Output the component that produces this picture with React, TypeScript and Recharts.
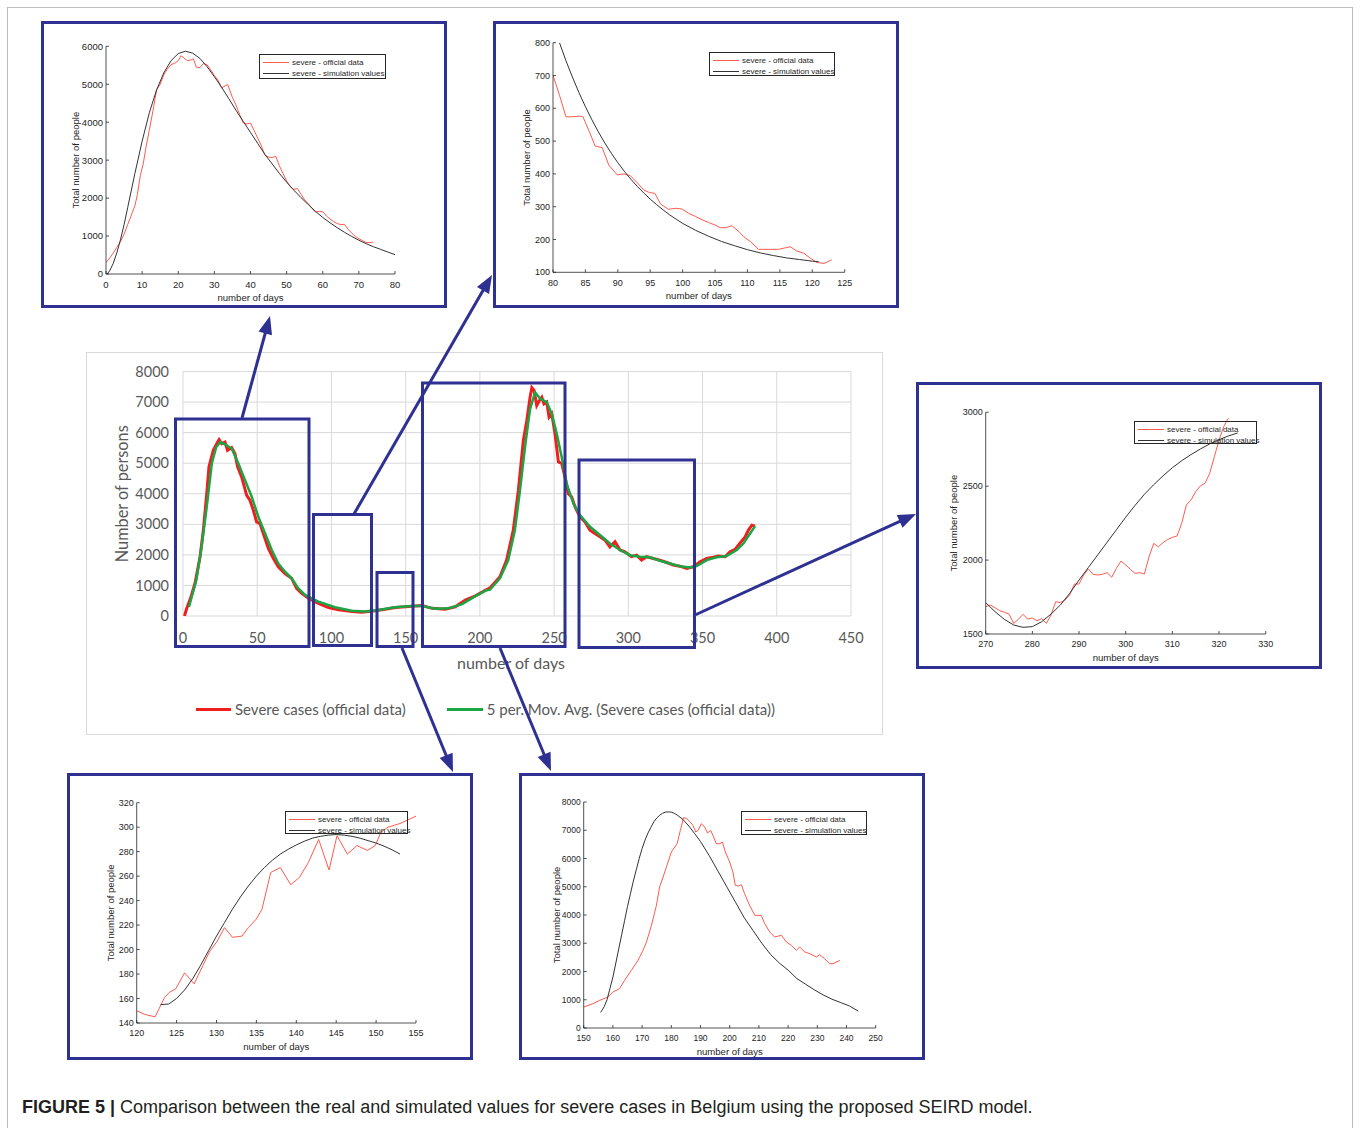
import React from "react";
import { LineChart, Line, XAxis, YAxis, CartesianGrid } from "recharts";

// ===== colours & fonts =====
const NAVY = "#2e3192";
const MAIN_FONT = "Lato, 'Open Sans', sans-serif";
const INSET_FONT = "'Liberation Sans', Arial, sans-serif";
const MAIN_TEXT = "#595959";
const INSET_TEXT = "#262626";
const RED = "#f01e1e";
const GREEN = "#1aa645";
const INSET_RED = "#ff5a4f";
const INSET_BLACK = "#333333";

// ===== main chart data: [day, severe cases] =====
const mainSevere: [number, number][] = [
  [1, 0], [2.5, 250], [5.4, 630], [8.1, 1070], [11.5, 1940], [13.7, 2810], [16, 4000], [17.5, 4880],
  [20.4, 5420], [22.7, 5640], [24.3, 5770], [26, 5640], [28.3, 5690], [30, 5420], [32.8, 5510], [35, 5310],
  [36.8, 4880], [39.5, 4550], [42.9, 3950], [45.1, 3790], [47.4, 3460], [49.6, 3080], [51.9, 3020],
  [54.1, 2700], [57.5, 2210], [60.9, 1880], [64.2, 1610], [68.7, 1390], [73.2, 1230], [76.6, 900],
  [80, 740], [84.5, 580], [91.2, 410], [98, 280], [104.8, 200], [113.8, 150], [120.5, 125], [129.5, 175],
  [136.2, 220], [143, 280], [149.7, 300], [156.5, 325], [161, 340], [167.7, 250], [176.6, 220],
  [183.4, 300], [190.2, 520], [197, 660], [203, 820], [206.8, 920], [213.5, 1280], [218, 1830],
  [222.5, 2810], [225.9, 4110], [229.3, 5750], [231.6, 6400], [233.8, 7160], [235, 7470], [236.5, 7380],
  [238.3, 6890], [240.1, 7050], [241.7, 7160], [243.2, 6940], [245, 7000], [246.6, 6510], [248.4, 6620],
  [250.6, 5960], [252.9, 5040], [255.1, 4990], [257.3, 4550], [259.6, 4000], [261.8, 3900], [264.1, 3570],
  [267.4, 3240], [270.8, 3080], [274.2, 2810], [277.5, 2700], [280.9, 2590], [284.3, 2480], [287.6, 2260],
  [291, 2430], [294.4, 2160], [297.7, 2100], [302.2, 1940], [305.6, 1990], [308.9, 1830], [312.3, 1940],
  [316.8, 1880], [321.3, 1830], [325.8, 1750], [330.3, 1670], [334.8, 1630], [339.3, 1560], [343.8, 1610],
  [348.3, 1770], [352.8, 1880], [357.3, 1920], [360.7, 1960], [365.2, 1940], [368.5, 2100], [371.9, 2180],
  [375.3, 2390], [378.7, 2590], [380.9, 2810], [383.2, 2970], [385.4, 2940],
];

// 5 per. moving average as drawn in the figure
const mainMovAvg: [number, number][] = [
  [4, 300], [9, 1175], [12.5, 2260], [16, 3570], [19.4, 4990], [22.4, 5530], [25.1, 5690], [28.3, 5620],
  [32.8, 5480], [37.3, 4990], [41.8, 4440], [46.3, 3900], [50.8, 3240], [55.3, 2700], [59.8, 2160],
  [64.2, 1720], [68.7, 1450], [73.2, 1230], [77.7, 900], [82.2, 690], [91.2, 470], [102.4, 285],
  [113.6, 175], [122.6, 145], [131.6, 195], [142.8, 285], [154, 325], [161, 327], [170, 240], [179, 250],
  [188, 390], [197, 650], [203.7, 830], [206.8, 860], [213.5, 1230], [219.1, 1830], [223.6, 2810],
  [227, 4110], [230.4, 5530], [233.8, 6780], [237.2, 7320], [240.6, 7110], [245, 7000], [248.4, 6620],
  [251.8, 5960], [255.1, 5200], [258.5, 4330], [263, 3680], [267.4, 3300], [274.2, 2920], [280.9, 2650],
  [287.6, 2370], [294.4, 2160], [301.1, 1990], [307.8, 1940], [314.6, 1920], [321.3, 1810], [328, 1720],
  [334.8, 1630], [341.5, 1590], [346, 1630], [352.8, 1830], [359.5, 1920], [366.2, 1960], [373, 2160],
  [377.5, 2370], [382, 2700], [385.4, 2940],
];

const mainXTicks = [0, 50, 100, 150, 200, 250, 300, 350, 400, 450];
const mainYTicks = [0, 1000, 2000, 3000, 4000, 5000, 6000, 7000, 8000];

// ===== inset data: [day, total number of people] =====
const wave1Official: [number, number][] = [
  [0, 300], [1, 420], [2, 550], [3, 700], [4, 850], [5, 1050], [6, 1300], [7, 1550], [8, 1800], [8.7, 2100],
  [9.5, 2600], [10.3, 2900], [11, 3300], [12, 3800], [13, 4300], [14, 4850], [15, 5000], [16, 5250],
  [17, 5400], [18, 5520], [19, 5550], [20, 5620], [20.7, 5750], [21.5, 5700], [22.5, 5620], [23.5, 5640],
  [24.2, 5670], [25, 5450], [26, 5440], [27, 5550], [28, 5510], [29, 5380], [30, 5230], [31, 5110],
  [32, 4900], [33, 4960], [33.7, 4990], [35, 4650], [36, 4450], [37, 4200], [38, 3980], [39, 3950],
  [40, 3980], [41, 3780], [42, 3580], [43, 3380], [44, 3130], [45, 3080], [46, 3070], [47, 3100],
  [48, 2850], [49, 2650], [50, 2450], [51, 2300], [52, 2230], [53, 2250], [54, 2100], [55, 1950],
  [56, 1850], [57, 1730], [58, 1630], [59, 1650], [60, 1640], [61, 1530], [62, 1450], [63, 1380],
  [64, 1330], [65, 1300], [66, 1310], [67, 1180], [68, 1080], [69, 990], [70, 930], [71, 880], [72, 830],
  [73, 830], [74, 840],
];
const wave1Sim: [number, number][] = [
  [0.3, 0], [1, 80], [2, 280], [3, 560], [4, 900], [5, 1300], [6, 1750], [8, 2650], [10, 3500],
  [12, 4250], [14, 4850], [16, 5300], [18, 5620], [20, 5810], [22, 5870], [24, 5820], [26, 5680],
  [28, 5460], [30, 5200], [32, 4920], [34, 4620], [36, 4310], [38, 4020], [40, 3730], [42, 3440],
  [44, 3150], [46, 2900], [48, 2650], [50, 2420], [52, 2210], [54, 2010], [56, 1830], [58, 1650],
  [60, 1490], [62, 1350], [64, 1220], [66, 1100], [68, 990], [70, 890], [72, 800], [74, 720], [76, 650],
  [78, 580], [80, 510],
];

const decayOfficial: [number, number][] = [
  [80, 701], [81, 640], [82, 574], [82.9, 574], [84, 576], [84.6, 575], [85.6, 529], [86.5, 485],
  [87.6, 480], [88.6, 427], [89.9, 397], [90.9, 400], [91.9, 395], [93.1, 371], [94, 351], [94.9, 343],
  [95.7, 341], [96.6, 308], [97.8, 292], [98.9, 295], [99.9, 293], [100.9, 280], [102, 270], [103, 260],
  [104, 252], [105, 244], [105.8, 236], [106.6, 236], [107.6, 242], [108.7, 224], [109.4, 209],
  [110.5, 193], [111.7, 170], [112.5, 170], [113.8, 170], [114.8, 170], [115.7, 174], [116.6, 178],
  [117.6, 165], [118.7, 158], [119.7, 143], [120.7, 130], [121.8, 127], [123, 138],
];
const decaySim: [number, number][] = [
  [81, 800], [82, 745], [83, 695], [84, 648], [85, 605], [86, 565], [87, 528], [88, 494], [89, 463],
  [90, 434], [91, 408], [92, 384], [93, 362], [94, 342], [95, 323], [96, 306], [97, 290], [98, 275],
  [99, 262], [100, 249], [102, 228], [104, 210], [106, 194], [108, 181], [110, 169], [112, 159],
  [114, 151], [116, 144], [118, 139], [120, 134], [121, 132],
];

const plateauOfficial: [number, number][] = [
  [270, 1685], [271, 1696], [272, 1678], [273, 1658], [274, 1647], [275, 1635], [276, 1572], [277, 1599],
  [278, 1633], [279, 1601], [280, 1608], [281, 1590], [282, 1604], [283, 1572], [284, 1629], [285, 1719],
  [286, 1712], [287, 1730], [288, 1764], [289, 1838], [290, 1838], [291, 1899], [292, 1940], [293, 1904],
  [294, 1899], [295, 1904], [296, 1915], [297, 1884], [298, 1944], [299, 1994], [300, 1967], [301, 1938],
  [302, 1910], [303, 1915], [304, 1906], [305, 2023], [306, 2113], [307, 2090], [308, 2118], [309, 2140],
  [310, 2154], [311, 2163], [312, 2249], [313, 2373], [314, 2407], [315, 2463], [316, 2502], [317, 2520],
  [318, 2587], [319, 2700], [320, 2813], [321, 2903], [322, 2960],
];
const plateauSim: [number, number][] = [
  [270, 1712], [272, 1651], [274, 1599], [276, 1561], [278, 1545], [280, 1550], [282, 1583], [284, 1635],
  [286, 1696], [288, 1775], [290, 1865], [292, 1950], [294, 2035], [296, 2120], [298, 2205], [300, 2290],
  [302, 2370], [304, 2445], [306, 2510], [308, 2570], [310, 2625], [312, 2672], [314, 2714], [316, 2752],
  [318, 2786], [320, 2815], [322, 2840], [324, 2860],
];

const summerOfficial: [number, number][] = [
  [120, 150], [121, 147], [122.3, 145], [123.5, 161], [124.1, 165], [124.9, 168], [126, 181], [127.2, 172],
  [128.3, 187], [129.1, 198], [130.1, 207], [131, 218], [132, 210], [133.2, 211], [134, 218], [135, 225],
  [135.7, 233], [136.8, 263], [138, 267], [139.3, 253], [140.4, 259], [141.5, 271], [142.8, 290],
  [144.1, 265], [145.1, 293], [146.4, 278], [147.6, 285], [148.9, 281], [149.9, 285], [150.6, 296],
  [151.5, 300], [153, 303], [155, 309],
];
const summerSim: [number, number][] = [
  [123, 155], [124, 155.5], [125, 160], [126, 167], [127, 176], [128, 187], [129, 199], [130, 211],
  [131, 222], [132, 233], [133, 243], [134, 252], [135, 260], [136, 267], [137, 273], [138, 278],
  [139, 282], [140, 285.5], [141, 288.5], [142, 291], [143, 292.5], [144, 293.5], [145, 294], [146, 293.5],
  [147, 292.5], [148, 291], [149, 289], [150, 287], [151, 284.5], [152, 281.5], [153, 278],
];

const wave2Official: [number, number][] = [
  [150, 743], [153.2, 861], [155.5, 980], [158.3, 1097], [160, 1274], [162.3, 1392], [164, 1687],
  [166.3, 2041], [168.6, 2395], [170.3, 2749], [171.5, 3044], [173.2, 3634], [174.9, 4342], [176, 4991],
  [177.2, 5345], [178.9, 5876], [180, 6230], [181.2, 6407], [182, 6525], [183.1, 6997], [184.2, 7450],
  [185.4, 7400], [186.5, 7292], [187.4, 7174], [188.4, 6938], [189.2, 6997], [190.3, 7233], [191.4, 7115],
  [192.4, 6903], [193.5, 6997], [194.5, 6761], [195.4, 6525], [196.6, 6525], [197.5, 6584], [198.5, 6230],
  [200, 5876], [201.1, 5522], [201.9, 5050], [203.1, 5027], [204, 5074], [205.1, 4755], [206.8, 4342],
  [208.6, 3988], [210.8, 3988], [212, 3693], [213.7, 3398], [215.4, 3221], [217.7, 3280], [219.4, 3044],
  [221.1, 2926], [222.8, 2749], [224, 2867], [225.7, 2690], [227.4, 2631], [229.7, 2513], [230.8, 2596],
  [232.5, 2454], [234.2, 2277], [235.4, 2277], [237.7, 2395],
];
const wave2Sim: [number, number][] = [
  [155.8, 550], [157, 750], [158, 1000], [159, 1400], [160, 1800], [161, 2300], [162, 2800], [163, 3300],
  [164, 3800], [165, 4300], [166, 4750], [167, 5200], [168, 5600], [169, 6000], [170, 6350], [171, 6650],
  [172, 6900], [173, 7100], [174, 7300], [175, 7430], [176, 7530], [177, 7600], [178, 7640], [179, 7650],
  [180, 7640], [181, 7600], [182, 7540], [184, 7380], [186, 7150], [188, 6880], [190, 6600], [193, 6100],
  [196, 5550], [199, 5000], [202, 4450], [205, 3900], [208, 3450], [211, 3000], [214, 2600], [217, 2300],
  [220, 2050], [223, 1750], [226, 1550], [229, 1350], [232, 1170], [235, 1020], [238, 900], [241, 780],
  [244, 600],
];

const legendLabels = ["severe - official data", "severe - simulation values"];
const mainLegendLabels = ["Severe cases (official data)", "5 per. Mov. Avg. (Severe cases (official data))"];
const caption = "Comparison between the real and simulated values for severe cases in Belgium using the proposed SEIRD model.";

const toRows = (pairs: [number, number][]) => pairs.map(([d, v]) => ({ d, v }));
const range = (a: number, b: number, s: number) => {
  const out: number[] = [];
  for (let x = a; x <= b + 1e-9; x += s) out.push(x);
  return out;
};

// ===== inset chart =====
interface InsetProps {
  left: number;
  top: number;
  margin: { l: number; t: number; r: number; b: number };
  xDomain: [number, number];
  xStep: number;
  yDomain: [number, number];
  yStep: number;
  official: [number, number][];
  sim: [number, number][];
  legend: { l: number; t: number; w: number; h: number };
  titleGap: number;
  tickFont?: number;
}

const IW = 400;
const IH = 281;
const YW = 40;
const XH = 20;

const Inset: React.FC<InsetProps> = ({
  left, top, margin, xDomain, xStep, yDomain, yStep, official, sim, legend, titleGap, tickFont = 9,
}) => {
  const plotLeft = margin.l;
  const plotBottom = IH - margin.b;
  const plotCenterY = (margin.t + plotBottom) / 2;
  const plotCenterX = (margin.l + IW - margin.r) / 2;
  return (
    <div
      style={{
        position: "absolute",
        left,
        top,
        width: IW + 6,
        height: IH + 6,
        boxSizing: "border-box",
        border: `3px solid ${NAVY}`,
        background: "#fff",
      }}
    >
      <LineChart
        width={IW}
        height={IH}
        margin={{ top: margin.t, right: margin.r, bottom: margin.b - XH, left: margin.l - YW }}
      >
        <XAxis
          type="number"
          dataKey="d"
          domain={xDomain}
          ticks={range(xDomain[0], xDomain[1], xStep)}
          allowDataOverflow
          height={XH}
          stroke={INSET_TEXT}
          strokeWidth={0.8}
          tickSize={-3}
          tickMargin={10}
          tick={{ fontSize: tickFont, fontFamily: INSET_FONT, fill: INSET_TEXT }}
          label={() => (
            <text
              x={plotCenterX}
              y={plotBottom + 23}
              textAnchor="middle"
              dominantBaseline="central"
              fontSize={9.6}
              fontFamily={INSET_FONT}
              fill={INSET_TEXT}
            >
              number of days
            </text>
          )}
        />
        <YAxis
          type="number"
          dataKey="v"
          domain={yDomain}
          ticks={range(yDomain[0], yDomain[1], yStep)}
          allowDataOverflow
          width={YW}
          stroke={INSET_TEXT}
          strokeWidth={0.8}
          tickSize={-3}
          tickMargin={6}
          tick={{ fontSize: tickFont, fontFamily: INSET_FONT, fill: INSET_TEXT }}
          label={() => (
            <text
              x={plotLeft - titleGap}
              y={plotCenterY}
              transform={`rotate(-90 ${plotLeft - titleGap} ${plotCenterY})`}
              textAnchor="middle"
              dominantBaseline="central"
              fontSize={9.5}
              fontFamily={INSET_FONT}
              fill={INSET_TEXT}
            >
              Total number of people
            </text>
          )}
        />
        <Line
          data={toRows(official)}
          dataKey="v"
          stroke={INSET_RED}
          strokeWidth={1}
          dot={false}
          activeDot={false}
          isAnimationActive={false}
        />
        <Line
          data={toRows(sim)}
          dataKey="v"
          stroke={INSET_BLACK}
          strokeWidth={1}
          dot={false}
          activeDot={false}
          isAnimationActive={false}
        />
      </LineChart>
      <div
        style={{
          position: "absolute",
          left: legend.l,
          top: legend.t,
          width: legend.w,
          height: legend.h,
          boxSizing: "border-box",
          border: `1px solid ${INSET_TEXT}`,
          fontFamily: INSET_FONT,
          fontSize: 8,
          color: INSET_TEXT,
        }}
      >
        {legendLabels.map((label, i) => (
          <div
            key={label}
            style={{
              position: "absolute",
              left: 0,
              top: 1.5 + i * 11,
              height: 11,
              display: "flex",
              alignItems: "center",
              whiteSpace: "nowrap",
            }}
          >
            <span
              style={{
                display: "inline-block",
                marginLeft: 3,
                width: 26,
                borderTop: `1px solid ${i === 0 ? INSET_RED : INSET_BLACK}`,
              }}
            />
            <span style={{ marginLeft: 3 }}>{label}</span>
          </div>
        ))}
      </div>
    </div>
  );
};

// ===== main chart =====
const MW = 795;
const MH = 381;
const M_LEFT = 96;
const M_TOP = 18.5;
const M_RIGHT = 31;
const M_BOTTOM = 118;

const MainChart: React.FC = () => {
  const plotCenterY = (M_TOP + MH - M_BOTTOM) / 2;
  const plotCenterX = (M_LEFT + MW - M_RIGHT) / 2;
  return (
    <div
      style={{
        position: "absolute",
        left: 86,
        top: 352,
        width: MW + 2,
        height: MH + 2,
        boxSizing: "border-box",
        border: "1px solid #d9d9d9",
        background: "#fff",
      }}
    >
      <LineChart
        width={MW}
        height={MH}
        margin={{ top: M_TOP, right: M_RIGHT, bottom: M_BOTTOM - 30, left: M_LEFT - 60 }}
      >
        <CartesianGrid stroke="#d9d9d9" strokeWidth={1} />
        <XAxis
          type="number"
          dataKey="d"
          domain={[0, 450]}
          ticks={mainXTicks}
          allowDataOverflow
          height={30}
          axisLine={false}
          tickLine={false}
          tickMargin={11}
          tick={{ fontSize: 14.5, fontFamily: MAIN_FONT, fill: MAIN_TEXT }}
          label={() => (
            <text
              x={plotCenterX - 6}
              y={309}
              textAnchor="middle"
              dominantBaseline="central"
              fontSize={16}
              fontFamily={MAIN_FONT}
              fill={MAIN_TEXT}
            >
              number of days
            </text>
          )}
        />
        <YAxis
          type="number"
          dataKey="v"
          domain={[0, 8000]}
          ticks={mainYTicks}
          allowDataOverflow
          width={60}
          axisLine={false}
          tickLine={false}
          tickMargin={8}
          tick={{ fontSize: 14.5, fontFamily: MAIN_FONT, fill: MAIN_TEXT }}
          label={() => (
            <text
              x={34}
              y={plotCenterY}
              transform={`rotate(-90 34 ${plotCenterY})`}
              textAnchor="middle"
              dominantBaseline="central"
              fontSize={16.3}
              fontFamily={MAIN_FONT}
              fill={MAIN_TEXT}
            >
              Number of persons
            </text>
          )}
        />
        <Line
          data={toRows(mainSevere)}
          dataKey="v"
          stroke={RED}
          strokeWidth={3}
          dot={false}
          activeDot={false}
          isAnimationActive={false}
        />
        <Line
          data={toRows(mainMovAvg)}
          dataKey="v"
          stroke={GREEN}
          strokeWidth={2.5}
          dot={false}
          activeDot={false}
          isAnimationActive={false}
        />
      </LineChart>
      {/* legend */}
      <div
        style={{
          position: "absolute",
          left: 109,
          top: 347,
          display: "flex",
          alignItems: "center",
          fontFamily: MAIN_FONT,
          fontSize: 15,
          color: MAIN_TEXT,
          whiteSpace: "nowrap",
        }}
      >
        <span style={{ display: "inline-block", width: 35, borderTop: `3px solid ${RED}`, marginRight: 4 }} />
        <span>{mainLegendLabels[0]}</span>
        <span style={{ display: "inline-block", width: 36, borderTop: `3px solid ${GREEN}`, marginLeft: 41, marginRight: 4 }} />
        <span>{mainLegendLabels[1]}</span>
      </div>
    </div>
  );
};

// ===== zoom boxes and arrows =====
const zoomBoxes: [number, number, number, number][] = [
  [175.5, 419, 309, 646.5],
  [313.5, 514.5, 371.5, 645.5],
  [377, 572.5, 413, 646.5],
  [422.5, 383, 565, 646.5],
  [579, 460, 694.5, 647.5],
];
const arrows: [number, number, number, number][] = [
  [242, 418, 270, 316],
  [354, 514, 492, 275],
  [695, 615, 916, 514],
  [402, 648, 453, 772],
  [500, 648, 551, 771],
];

const Arrow: React.FC<{ a: [number, number, number, number] }> = ({ a }) => {
  const [x1, y1, x2, y2] = a;
  const len = Math.hypot(x2 - x1, y2 - y1);
  const ux = (x2 - x1) / len;
  const uy = (y2 - y1) / len;
  const hl = 18;
  const hw = 7;
  const bx = x2 - ux * hl;
  const by = y2 - uy * hl;
  return (
    <g>
      <line x1={x1} y1={y1} x2={bx + ux * 2} y2={by + uy * 2} stroke={NAVY} strokeWidth={3} />
      <polygon
        points={`${x2},${y2} ${bx - uy * hw},${by + ux * hw} ${bx + uy * hw},${by - ux * hw}`}
        fill={NAVY}
      />
    </g>
  );
};

export default function App() {
  return (
    <div
      style={{
        position: "absolute",
        left: 0,
        top: 0,
        width: 1360,
        height: 1128,
        overflow: "hidden",
        background: "#fff",
      }}
    >
      <div
        style={{
          position: "absolute",
          left: 7,
          top: 7,
          width: 1346,
          height: 1140,
          boxSizing: "border-box",
          border: "1px solid #bdbdbd",
        }}
      />
      <MainChart />
      <Inset
        left={41}
        top={21}
        margin={{ l: 62, t: 22.3, r: 49, b: 31 }}
        xDomain={[0, 80]}
        xStep={10}
        yDomain={[0, 6000]}
        yStep={1000}
        official={wave1Official}
        sim={wave1Sim}
        legend={{ l: 215, t: 30, w: 127, h: 25 }}
        titleGap={30}
        tickFont={9.5}
      />
      <Inset
        left={493}
        top={21}
        margin={{ l: 57, t: 18.7, r: 51.3, b: 32.7 }}
        xDomain={[80, 125]}
        xStep={5}
        yDomain={[100, 800]}
        yStep={100}
        official={decayOfficial}
        sim={decaySim}
        legend={{ l: 213, t: 28, w: 126, h: 24 }}
        titleGap={27}
      />
      <Inset
        left={916}
        top={382}
        margin={{ l: 66.7, t: 27.3, r: 53.3, b: 32 }}
        xDomain={[270, 330]}
        xStep={10}
        yDomain={[1500, 3000]}
        yStep={500}
        official={plateauOfficial}
        sim={plateauSim}
        legend={{ l: 215, t: 36, w: 123, h: 23 }}
        titleGap={32}
      />
      <Inset
        left={67}
        top={773}
        margin={{ l: 66.7, t: 26.7, r: 54, b: 34 }}
        xDomain={[120, 155]}
        xStep={5}
        yDomain={[140, 320]}
        yStep={20}
        official={summerOfficial}
        sim={summerSim}
        legend={{ l: 215, t: 35, w: 123, h: 23 }}
        titleGap={26}
      />
      <Inset
        left={519}
        top={773}
        margin={{ l: 61.7, t: 26, r: 46.3, b: 29 }}
        xDomain={[150, 250]}
        xStep={10}
        yDomain={[0, 8000]}
        yStep={1000}
        official={wave2Official}
        sim={wave2Sim}
        legend={{ l: 219, t: 35, w: 126, h: 24 }}
        titleGap={27}
        tickFont={8.5}
      />
      <svg
        width={1360}
        height={1128}
        style={{ position: "absolute", left: 0, top: 0, pointerEvents: "none" }}
      >
        {zoomBoxes.map(([x1, y1, x2, y2], i) => (
          <rect key={i} x={x1} y={y1} width={x2 - x1} height={y2 - y1} fill="none" stroke={NAVY} strokeWidth={3} />
        ))}
        {arrows.map((a, i) => (
          <Arrow key={i} a={a} />
        ))}
      </svg>
      <div
        style={{
          position: "absolute",
          left: 22,
          top: 1097,
          fontFamily: INSET_FONT,
          fontSize: 18,
          color: "#231f20",
          whiteSpace: "nowrap",
        }}
      >
        <b>FIGURE 5 | </b>
        {caption}
      </div>
    </div>
  );
}
